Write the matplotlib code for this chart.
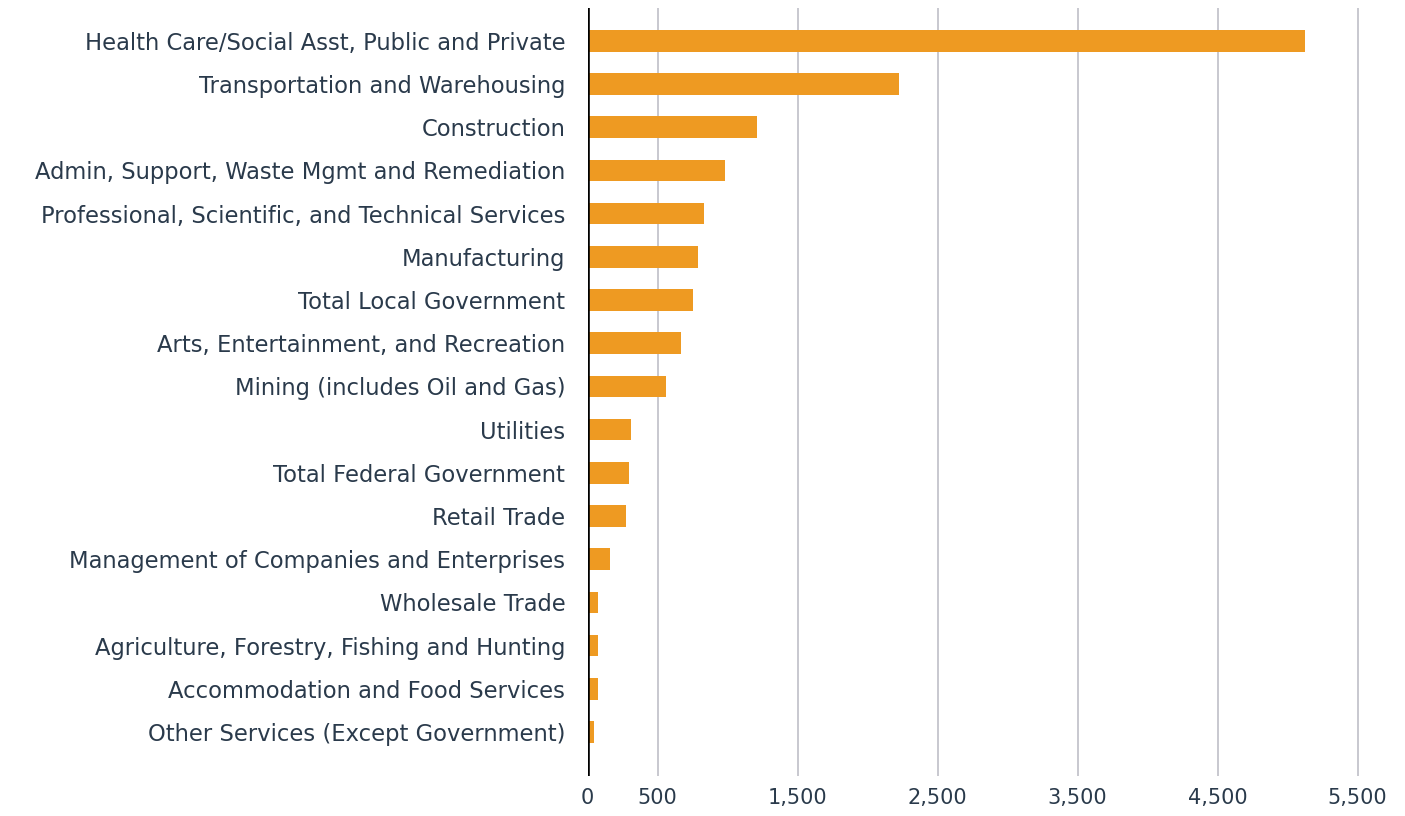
import matplotlib
matplotlib.use("Agg")
import matplotlib.pyplot as plt

categories = [
    "Health Care/Social Asst, Public and Private",
    "Transportation and Warehousing",
    "Construction",
    "Admin, Support, Waste Mgmt and Remediation",
    "Professional, Scientific, and Technical Services",
    "Manufacturing",
    "Total Local Government",
    "Arts, Entertainment, and Recreation",
    "Mining (includes Oil and Gas)",
    "Utilities",
    "Total Federal Government",
    "Retail Trade",
    "Management of Companies and Enterprises",
    "Wholesale Trade",
    "Agriculture, Forestry, Fishing and Hunting",
    "Accommodation and Food Services",
    "Other Services (Except Government)",
]
values = [5125, 2227, 1213, 980, 834, 787, 756, 668, 563, 308, 296, 275, 161, 77, 77, 77, 44]
xticks = [0, 500, 1500, 2500, 3500, 4500, 5500]
xticklabels = ["0", "500", "1,500", "2,500", "3,500", "4,500", "5,500"]

W, H = 1405, 816
fig = plt.figure(figsize=(W / 100, H / 100), dpi=100)
left, right, top, bottom = 587.5, 1392.5, 8, 776
ax = fig.add_axes([left / W, 1 - bottom / H, (right - left) / W, (bottom - top) / H])

text_color = "#2a3a4b"
ypos = list(range(len(categories)))
ax.barh(ypos, values, height=0.5, color="#EE9A22", zorder=3)
ax.set_xlim(0, 5750)
ax.set_ylim(17.02, -0.76)

ax.set_yticks(ypos)
ax.set_yticklabels(categories, fontfamily="DejaVu Sans", fontsize=16.3, color=text_color)
ax.set_xticks(xticks)
ax.set_xticklabels(xticklabels, fontfamily="DejaVu Sans", fontsize=15, color=text_color)
ax.tick_params(axis="y", length=0, pad=16)
ax.tick_params(axis="x", length=0, pad=9)

for xv in xticks[1:]:
    ax.axvline(xv, color="#bfbfc7", linewidth=1.2, zorder=1)
ax.axvline(0, color="black", linewidth=2.6, zorder=4)

for s in ax.spines.values():
    s.set_visible(False)

fig.savefig("out.png", dpi=100)
